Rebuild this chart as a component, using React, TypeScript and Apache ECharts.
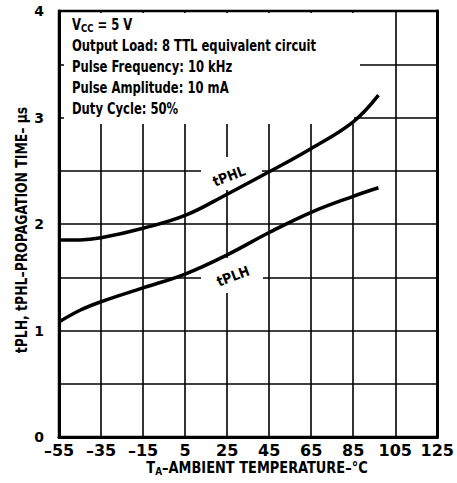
import React, { useEffect, useRef } from "react";
import * as echarts from "echarts";

// Temperatures (°C) at which the curves were read
const tempPoints = [-55, -45, -35, -15, 5, 25, 45, 65, 85, 97];
// Propagation times (µs)
const tPHL = [1.85, 1.85, 1.87, 1.96, 2.08, 2.28, 2.49, 2.71, 2.96, 3.21];
const tPLH = [1.08, 1.19, 1.27, 1.40, 1.53, 1.71, 1.92, 2.11, 2.26, 2.34];

const xMin = -55;
const xMax = 125;
const xStep = 20;
const yMax = 4;
const yStep = 0.5;

const conditionLines = [
  "Output Load: 8 TTL equivalent circuit",
  "Pulse Frequency: 10 kHz",
  "Pulse Amplitude: 10 mA",
  "Duty Cycle: 50%",
];

const NARROW = "'Liberation Sans Narrow', 'DejaVu Sans Condensed', 'Liberation Sans', sans-serif";
const WIDE = "'DejaVu Sans', 'Liberation Sans', sans-serif";

export default function App() {
  const ref = useRef<HTMLDivElement>(null);
  useEffect(() => {
    if (!ref.current) return;
    const chart = echarts.init(ref.current, null, { renderer: "svg" });
    const toX = (t: number) => t - xMin;
    const fmtTemp = (v: number) => {
      const t = Math.round(v + xMin);
      return t < 0 ? "\u2013" + Math.abs(t) : String(t);
    };
    const lineStyle = { color: "#000", width: 1.6 };
    const graphic: any[] = [
      { type: "rect", z: 1, shape: { x: 64, y: 13, width: 296, height: 102 }, style: { fill: "#fff" } },
      { type: "rect", z: 1, shape: { x: 64, y: 115, width: 290, height: 9 }, style: { fill: "#fff" } },
      { type: "rect", z: 1, shape: { x: 201, y: 157, width: 61, height: 33 }, style: { fill: "#fff" } },
      { type: "rect", z: 1, shape: { x: 201, y: 258, width: 62, height: 35 }, style: { fill: "#fff" } },
      {
        type: "text", z: 5, x: 72, y: 25, scaleX: 0.86,
        style: {
          text: "{a|V}{s|CC}{a| = 5 V}",
          verticalAlign: "middle",
          rich: {
            a: { font: `bold 15px ${NARROW}`, fill: "#000" },
            s: { font: `bold 11px ${NARROW}`, fill: "#000", padding: [5, 0, 0, 0] },
          },
        },
      },
      ...conditionLines.map((t, i) => ({
        type: "text", z: 5, x: 72, y: 46 + i * 21, scaleX: 0.86,
        style: { text: t, font: `bold 15px ${NARROW}`, fill: "#000", verticalAlign: "middle" },
      })),
      {
        type: "text", z: 5, x: 229, y: 176, rotation: 0.36,
        style: { text: "tPHL", font: `bold 14px ${NARROW}`, fill: "#000", align: "center", verticalAlign: "middle" },
      },
      {
        type: "text", z: 5, x: 233, y: 276, rotation: 0.36,
        style: { text: "tPLH", font: `bold 14px ${NARROW}`, fill: "#000", align: "center", verticalAlign: "middle" },
      },
      {
        type: "text", z: 5, x: 22, y: 230, rotation: Math.PI / 2, scaleX: 0.92,
        style: {
          text: "tPLH, tPHL\u2013PROPAGATION TIME\u2013 \u00B5s",
          font: `bold 15px ${NARROW}`, fill: "#000", align: "center", verticalAlign: "middle",
        },
      },
      {
        type: "text", z: 5, x: 257, y: 468, scaleX: 0.9,
        style: {
          text: "{a|T}{s|A}{a|\u2013AMBIENT TEMPERATURE\u2013\u00B0C}",
          align: "center", verticalAlign: "middle",
          rich: {
            a: { font: `bold 16px ${NARROW}`, fill: "#000" },
            s: { font: `bold 11px ${NARROW}`, fill: "#000", padding: [6, 0, 0, 0] },
          },
        },
      },
    ];
    chart.setOption({
      animation: false,
      grid: { left: 59, right: 13, top: 11, bottom: 46, show: true, borderColor: "#000", borderWidth: 2.5 },
      xAxis: {
        type: "value", min: 0, max: xMax - xMin, interval: xStep,
        axisLine: { show: true, lineStyle: { color: "#000", width: 3 } },
        axisTick: { show: false },
        splitLine: { show: true, lineStyle },
        axisLabel: { formatter: fmtTemp, color: "#000", fontFamily: WIDE, fontWeight: "bold", fontSize: 16, margin: 5 },
      },
      yAxis: [
        {
          type: "value", min: 0, max: yMax, interval: yStep,
          axisLine: { show: true, lineStyle: { color: "#000", width: 3 } },
          axisTick: { show: false },
          splitLine: { show: true, lineStyle },
          axisLabel: {
            formatter: (v: number) => (Number.isInteger(v) ? String(v) : ""),
            color: "#000", fontFamily: WIDE, fontWeight: "bold", fontSize: 14, margin: 15,
          },
        },
        {
          type: "value", min: 0, max: yMax, interval: yStep, position: "right",
          axisLine: { show: true, lineStyle: { color: "#000", width: 3 } },
          axisTick: { show: false }, axisLabel: { show: false }, splitLine: { show: false },
        },
      ],
      series: [
        {
          name: "tPHL", type: "line", smooth: 0.4, showSymbol: false, z: 3,
          lineStyle: { color: "#000", width: 3.5 },
          data: tempPoints.map((t, i) => [toX(t), tPHL[i]]),
        },
        {
          name: "tPLH", type: "line", smooth: 0.4, showSymbol: false, z: 3,
          lineStyle: { color: "#000", width: 3.5 },
          data: tempPoints.map((t, i) => [toX(t), tPLH[i]]),
        },
      ],
      graphic,
    });
    return () => chart.dispose();
  }, []);
  return <div ref={ref} style={{ width: 457, height: 483, position: "absolute", left: 0, top: 0 }} />;
}
